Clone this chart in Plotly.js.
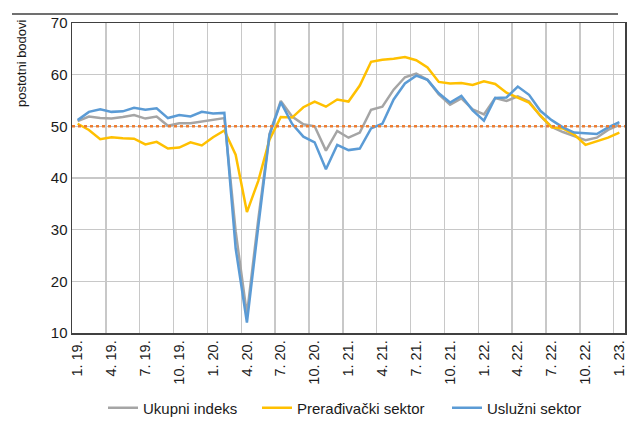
<!DOCTYPE html>
<html><head><meta charset="utf-8">
<script src="https://cdn.plot.ly/plotly-3.0.1.min.js"></script>
<style>body{margin:0;background:#fff}#c{width:633px;height:430px}</style>
</head><body><div id="c"></div>
<script>
const months = [
 "1. 19.","2. 19.","3. 19.","4. 19.","5. 19.","6. 19.","7. 19.","8. 19.","9. 19.","10. 19.","11. 19.","12. 19.",
 "1. 20.","2. 20.","3. 20.","4. 20.","5. 20.","6. 20.","7. 20.","8. 20.","9. 20.","10. 20.","11. 20.","12. 20.",
 "1. 21.","2. 21.","3. 21.","4. 21.","5. 21.","6. 21.","7. 21.","8. 21.","9. 21.","10. 21.","11. 21.","12. 21.",
 "1. 22.","2. 22.","3. 22.","4. 22.","5. 22.","6. 22.","7. 22.","8. 22.","9. 22.","10. 22.","11. 22.","12. 22.",
 "1. 23."];
const ukupni = [51.0,51.9,51.6,51.5,51.8,52.2,51.5,51.9,50.1,50.6,50.6,50.9,
 51.3,51.6,29.7,13.6,31.9,48.5,54.9,51.9,50.4,50.0,45.3,49.1,
 47.8,48.8,53.2,53.8,57.1,59.5,60.2,59.0,56.2,54.2,55.4,53.3,
 52.3,55.5,54.9,55.8,54.8,52.0,49.9,48.9,48.1,47.3,47.8,49.3,
 50.3];
const preradjivacki = [50.5,49.3,47.5,47.9,47.7,47.6,46.5,47.0,45.7,45.9,46.9,46.3,
 47.9,49.2,44.5,33.4,39.4,47.4,51.8,51.7,53.7,54.8,53.8,55.2,
 54.8,57.9,62.5,62.9,63.1,63.4,62.8,61.4,58.6,58.3,58.4,58.0,
 58.7,58.2,56.5,55.5,54.6,52.1,49.8,49.6,48.4,46.4,47.1,47.8,
 48.8];
const usluzni = [51.2,52.8,53.3,52.8,52.9,53.6,53.2,53.5,51.6,52.2,51.9,52.8,
 52.5,52.6,26.4,12.0,30.5,48.3,54.7,50.5,48.0,46.9,41.7,46.4,
 45.4,45.7,49.6,50.5,55.2,58.3,59.8,59.0,56.4,54.6,55.9,53.1,
 51.1,55.5,55.6,57.7,56.1,53.0,51.2,49.8,48.8,48.6,48.5,49.8,
 50.8];
const threshold = 50;
const yTicks = [10,20,30,40,50,60,70];
const yTitle = "postotni bodovi";

const idx = months.map((_, i) => i);
const tickIdx = idx.filter(i => i % 3 === 0);
const narrow = "'Liberation Sans Narrow', 'Arial Narrow', 'Liberation Sans', sans-serif";
const sans = "'Liberation Sans', Arial, sans-serif";
const txt = "#1a1a1a";

const traces = [
 {x: idx, y: ukupni, name: "Ukupni indeks", type: "scatter", mode: "lines", legend: "legend", line: {color: "#A5A5A5", width: 2.5}},
 {x: idx, y: preradjivacki, name: "Prerađivački sektor", type: "scatter", mode: "lines", legend: "legend2", line: {color: "#FFC000", width: 2.5}},
 {x: idx, y: usluzni, name: "Uslužni sektor", type: "scatter", mode: "lines", legend: "legend3", line: {color: "#5B9BD5", width: 2.5}},
 {x: [-0.5, months.length - 0.5], y: [threshold, threshold], type: "scatter", mode: "lines", showlegend: false, hoverinfo: "skip",
  line: {color: "#ED7D31", width: 2.5, dash: "3px,3px"}}
];

function leg(xpx) {
 return {orientation: "h", x: xpx / 633, xanchor: "left", xref: "container",
  y: (430 - 408) / 430, yref: "container", yanchor: "middle",
  font: {family: narrow, size: 15, color: txt}, itemwidth: 30, bgcolor: "rgba(0,0,0,0)"};
}

const layout = {
 width: 633, height: 430,
 margin: {l: 72, r: 8, t: 23, b: 97},
 paper_bgcolor: "#fff", plot_bgcolor: "#fff",
 font: {family: sans, size: 14, color: txt},
 showlegend: true,
 legend: leg(103), legend2: leg(257), legend3: leg(447),
 xaxis: {
  automargin: false,
  range: [-0.5, months.length - 0.5], tickmode: "array",
  tickvals: tickIdx, ticktext: tickIdx.map(i => months[i]), tickangle: -90,
  showgrid: false, zeroline: false,
  showline: true, linecolor: "#404040", linewidth: 1.5, mirror: true,
  ticks: "", tickfont: {family: sans, size: 14.5, color: txt},
  minor: {tick0: -0.5, dtick: 3, showgrid: true, gridcolor: "#C8C8C8", gridwidth: 1.5, ticks: ""}
 },
 yaxis: {
  automargin: false,
  range: [10, 70], tickmode: "array", tickvals: yTicks,
  showgrid: true, gridcolor: "#C8C8C8", gridwidth: 1.5, zeroline: false,
  showline: true, linecolor: "#404040", linewidth: 1.5, mirror: true,
  ticks: "", tickfont: {family: sans, size: 15, color: txt}
 },
 annotations: [{
  text: yTitle, textangle: -90, showarrow: false,
  xref: "paper", x: (21 - 72) / 553, xanchor: "center",
  yref: "paper", y: 1 + (23 - 17) / 310, yanchor: "top",
  font: {family: sans, size: 13, color: txt}
 }],
 shapes: [{
  type: "line", xref: "paper", yref: "paper", layer: "above",
  x0: (12 - 72) / 553, x1: (618 - 72) / 553, y0: 1 + (23 - 14) / 310, y1: 1 + (23 - 14) / 310,
  line: {color: "#404040", width: 1.5}
 }]
};
Plotly.newPlot("c", traces, layout, {displayModeBar: false, staticPlot: true});
</script></body></html>
